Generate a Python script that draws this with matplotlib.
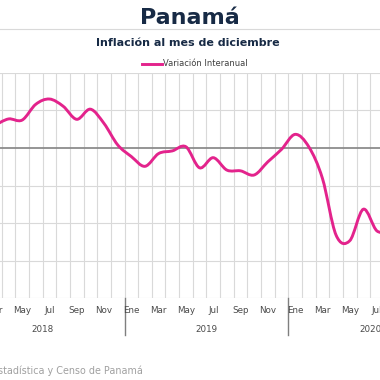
import numpy as np
import matplotlib

matplotlib.use("Agg")
import matplotlib.pyplot as plt
from matplotlib.path import Path
from matplotlib.patches import PathPatch
from matplotlib.transforms import blended_transform_factory

# month index 0 = Ene 2018
month_idx = list(range(2, 32))
inflacion = [0.60, 0.77, 0.74, 1.16, 1.30, 1.11, 0.76, 1.03, 0.65, 0.08,
             -0.23, -0.49, -0.15, -0.08, 0.03, -0.53, -0.26, -0.59, -0.61, -0.72,
             -0.37, -0.04, 0.36, 0.03, -0.81, -2.32, -2.47, -1.63, -2.21, -2.20]
month_labels = ["Ene", "Mar", "May", "Jul", "Sep", "Nov"]
years = ["2018", "2019", "2020"]

pink = "#e3238c"
navy = "#172a45"

fig = plt.figure(figsize=(3.8, 3.8), dpi=100)
W = H = 380.0


def fx(px):
    return px / W


def fy(py):
    return 1 - py / H


# axes spans Ene 2018 .. Dic 2020, left part cut off by figure edge
left_px, right_px, top_px, bot_px = -39.3, 452.1, 72.7, 298.3
ax = fig.add_axes([fx(left_px), fy(bot_px), fx(right_px - left_px), (bot_px - top_px) / H])
ax.set_xlim(-0.5, 35.5)
ax.set_ylim(-4, 2)
for s in ax.spines.values():
    s.set_visible(False)
ax.set_xticks([])
ax.set_yticks([])

for b in np.arange(-0.5, 36, 1):
    ax.axvline(b, color="#d9d9d9", lw=0.8, zorder=1)
for v in range(-4, 3):
    if v == 0:
        ax.axhline(v, color="#8c8c8c", lw=1.3, zorder=2)
    else:
        ax.axhline(v, color="#d9d9d9", lw=0.8, zorder=1)

# smoothed line (Catmull-Rom as cubic Bezier)
pts = np.column_stack([month_idx, inflacion]).astype(float)
ext = np.vstack([pts[0], pts, pts[-1]])
verts = [tuple(pts[0])]
codes = [Path.MOVETO]
for k in range(1, len(ext) - 2):
    p0, p1, p2, p3 = ext[k - 1], ext[k], ext[k + 1], ext[k + 2]
    c1 = p1 + (p2 - p0) / 6
    c2 = p2 - (p3 - p1) / 6
    verts += [tuple(c1), tuple(c2), tuple(p2)]
    codes += [Path.CURVE4] * 3
ax.add_patch(PathPatch(Path(verts, codes), facecolor="none", edgecolor=pink,
                       lw=2.1, zorder=3, capstyle="round", joinstyle="round"))

# x axis labels
tr = blended_transform_factory(ax.transData, fig.transFigure)
for y in range(3):
    for m in range(0, 12, 2):
        ax.text(12 * y + m, fy(310.5), month_labels[m // 2], transform=tr,
                ha="center", va="center", fontsize=6.3, color="#4a4a4a", clip_on=False)
    ax.text(12 * y + 5.5, fy(329), years[y], transform=tr, ha="center", va="center",
            fontsize=6.3, color="#4a4a4a", clip_on=False)
for b in [-0.5, 11.5, 23.5, 35.5]:
    ax.plot([b, b], [fy(bot_px), fy(335)], transform=tr, color="#7f7f7f", lw=1.0, clip_on=False)

# titles, legend, source
fig.text(0.5, fy(18), "Panamá", ha="center", va="center", fontsize=16,
         fontweight="bold", color=navy)
fig.add_artist(plt.Line2D([0, 1], [fy(28.5), fy(28.5)], color="#d9d9d9", lw=0.8))
fig.text(fx(188), fy(43.5), "Inflación al mes de diciembre", ha="center", va="center",
         fontsize=8, fontweight="bold", color=navy)
fig.add_artist(plt.Line2D([fx(142), fx(162)], [fy(64), fy(64)], color=pink, lw=2.1))
fig.text(fx(163), fy(64), "Variación Interanual", ha="left", va="center",
         fontsize=6, color="#404040")
fig.text(fx(143), fy(371), "Fuente: Instituto Nacional de Estadística y Censo de Panamá",
         ha="right", va="center", fontsize=6.9, color="#a0a0a0")

fig.savefig("out.png", dpi=100)
